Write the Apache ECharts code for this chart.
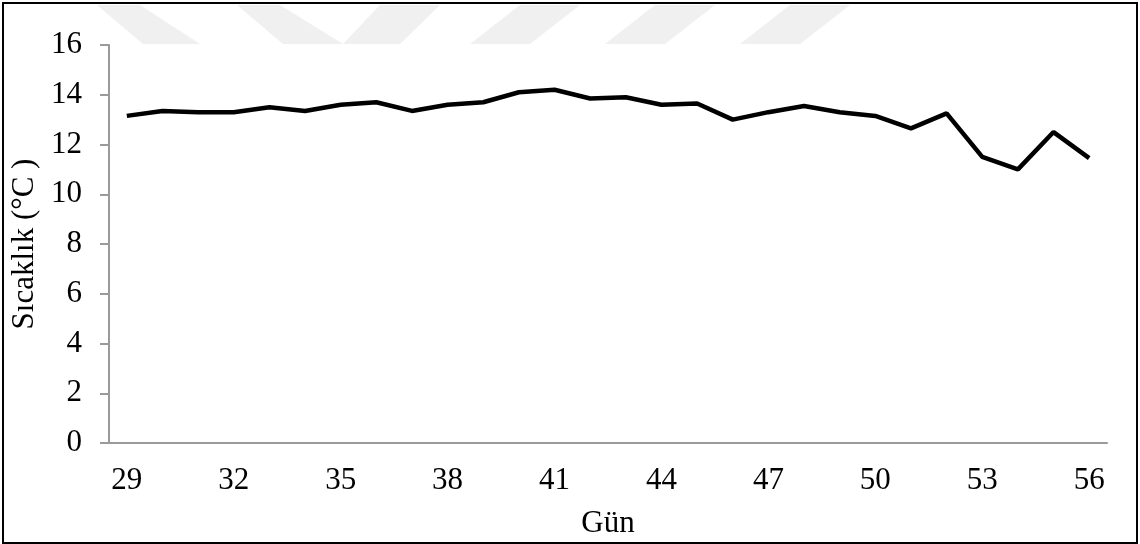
<!DOCTYPE html>
<html lang="tr">
<head>
    <meta charset="utf-8">
    <title>Sıcaklık</title>
    <script src="https://cdn.jsdelivr.net/npm/echarts@6/dist/echarts.min.js"></script>
    <style>
        html, body { margin: 0; padding: 0; background: #fff; }
        #chart { width: 1140px; height: 544px; }
    </style>
</head>
<body>
<div id="chart"></div>
<script type="text/javascript">
    // gün (x) ve sıcaklık (y) değerleri
    var days = ['29','30','31','32','33','34','35','36','37','38','39','40','41','42',
                '43','44','45','46','47','48','49','50','51','52','53','54','55','56'];
    var temps = [13.15, 13.35, 13.3, 13.3, 13.5, 13.35, 13.6, 13.7, 13.35, 13.6, 13.7, 14.1, 14.2, 13.85,
                 13.9, 13.6, 13.65, 13.0, 13.3, 13.55, 13.3, 13.15, 12.65, 13.25, 11.5, 11.0, 12.5, 11.45];

    var font = '"Liberation Serif", "Times New Roman", serif';
    var myChart = echarts.init(document.getElementById('chart'));

    // arka plandaki soluk filigran şeritleri
    function stripe(tl, tr, bl, br) {
        return {
            type: 'polygon',
            z: -10,
            shape: { points: [[tl, 5], [tr, 5], [br, 44], [bl, 44]] },
            style: { fill: '#f0f0f0' },
            silent: true
        };
    }

    var option = {
        backgroundColor: '#fff',
        animation: false,
        grid: { left: 109, right: 33, top: 45, bottom: 100 },
        graphic: [
            stripe(97, 140, 143, 200),
            stripe(237, 280, 283, 343),
            stripe(380, 440, 343, 400),
            stripe(520, 580, 470, 530),
            stripe(655, 715, 605, 665),
            stripe(790, 850, 740, 800),
            {
                type: 'rect',
                shape: { x: 3, y: 3, width: 1134, height: 540 },
                style: { fill: 'none', stroke: '#000', lineWidth: 2 },
                silent: true
            }
        ],
        xAxis: {
            type: 'category',
            data: days,
            boundaryGap: true,
            name: 'Gün',
            nameLocation: 'middle',
            nameGap: 65,
            nameTextStyle: { fontFamily: font, fontSize: 31, color: '#000' },
            axisLine: { lineStyle: { color: '#9a9a9a', width: 2 } },
            axisTick: { show: false },
            axisLabel: { interval: 2, margin: 22, fontFamily: font, fontSize: 31, color: '#000' },
            splitLine: { show: false }
        },
        yAxis: {
            type: 'value',
            min: 0,
            max: 16,
            interval: 2,
            name: 'Sıcaklık (°C )',
            nameLocation: 'middle',
            nameGap: 54,
            nameTextStyle: { fontFamily: font, fontSize: 31, color: '#000' },
            axisLine: { show: true, lineStyle: { color: '#9a9a9a', width: 2 } },
            axisTick: { show: true, length: 9, lineStyle: { color: '#9a9a9a', width: 2 } },
            axisLabel: { margin: 27, fontFamily: font, fontSize: 31, color: '#000' },
            splitLine: { show: false }
        },
        series: [
            {
                type: 'line',
                data: temps,
                symbol: 'none',
                lineStyle: { color: '#000', width: 4.5 },
                z: 3
            }
        ]
    };
    myChart.setOption(option);
</script>
</body>
</html>
